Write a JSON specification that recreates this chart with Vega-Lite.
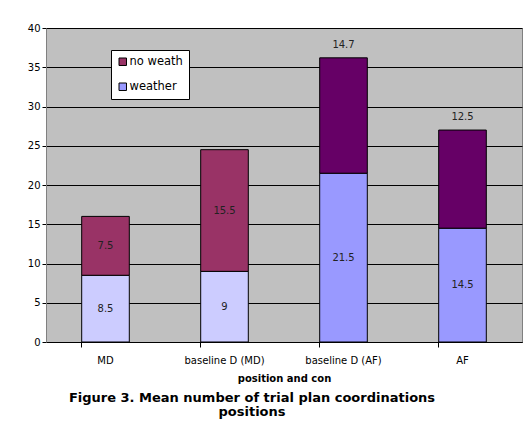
{
  "$schema": "https://vega.github.io/schema/vega-lite/v6.json",
  "autosize": "none",
  "padding": {"left": 46, "top": 28, "right": 1, "bottom": 81},
  "width": 476,
  "height": 314,
  "background": "white",
  "title": {
    "text": ["Figure 3. Mean number of trial plan coordinations", "positions"],
    "orient": "bottom",
    "anchor": "middle",
    "dx": -32,
    "offset": 9,
    "font": "DejaVu Sans",
    "fontSize": 13,
    "fontWeight": "bold",
    "color": "#000000",
    "lineHeight": 14
  },
  "data": {
    "values": [
      {"position": "MD", "series": "weather", "shade": "w1", "order": 1, "value": 8.5, "label": "8.5", "place": "inside"},
      {"position": "MD", "series": "no weather", "shade": "nw1", "order": 2, "value": 7.5, "label": "7.5", "place": "inside"},
      {"position": "baseline D (MD)", "series": "weather", "shade": "w1", "order": 1, "value": 9, "label": "9", "place": "inside"},
      {"position": "baseline D (MD)", "series": "no weather", "shade": "nw1", "order": 2, "value": 15.5, "label": "15.5", "place": "inside"},
      {"position": "baseline D (AF)", "series": "weather", "shade": "w2", "order": 1, "value": 21.5, "label": "21.5", "place": "inside"},
      {"position": "baseline D (AF)", "series": "no weather", "shade": "nw2", "order": 2, "value": 14.7, "label": "14.7", "place": "above"},
      {"position": "AF", "series": "weather", "shade": "w2", "order": 1, "value": 14.5, "label": "14.5", "place": "inside"},
      {"position": "AF", "series": "no weather", "shade": "nw2", "order": 2, "value": 12.5, "label": "12.5", "place": "above"}
    ]
  },
  "transform": [
    {"stack": "value", "groupby": ["position"], "sort": [{"field": "order"}], "as": ["v0", "v1"]},
    {"calculate": "(datum.v0 + datum.v1) / 2", "as": "mid"}
  ],
  "encoding": {
    "x": {
      "field": "position",
      "type": "nominal",
      "sort": ["MD", "baseline D (MD)", "baseline D (AF)", "AF"],
      "scale": {"paddingInner": 0.6, "paddingOuter": 0.3},
      "title": "position and con",
      "axis": {"labelAngle": 0, "bandPosition": 0}
    }
  },
  "layer": [
    {
      "mark": {"type": "bar", "stroke": "#000000", "strokeWidth": 1},
      "encoding": {
        "y": {
          "field": "v0",
          "type": "quantitative",
          "scale": {"domain": [0, 40], "nice": false},
          "title": null,
          "axis": {"values": [0, 5, 10, 15, 20, 25, 30, 35, 40], "tickCount": 20, "format": "d"}
        },
        "y2": {"field": "v1"},
        "color": {
          "field": "shade",
          "type": "nominal",
          "scale": {
            "domain": ["nw1", "nw2", "w1", "w2"],
            "range": ["#993366", "#660066", "#ccccff", "#9999ff"]
          },
          "legend": {
            "values": ["nw1", "w2"],
            "labelExpr": "datum.value == 'nw1' ? 'no weath' : 'weather'",
            "title": null,
            "orient": "none",
            "legendX": 65,
            "legendY": 22,
            "fillColor": "white",
            "strokeColor": "#000000",
            "padding": 6,
            "symbolType": "square",
            "symbolSize": 56,
            "symbolStrokeColor": "#000000",
            "symbolStrokeWidth": 1,
            "symbolOpacity": 1,
            "labelFont": "DejaVu Sans",
            "labelFontSize": 11.5,
            "labelColor": "#000000",
            "labelOffset": 1,
            "rowPadding": 12
          }
        }
      }
    },
    {
      "transform": [{"filter": "datum.place == 'inside'"}],
      "mark": {"type": "text", "font": "DejaVu Sans", "fontSize": 10, "color": "#222222", "baseline": "middle"},
      "encoding": {
        "y": {"field": "mid", "type": "quantitative", "title": null, "axis": {"values": [0, 5, 10, 15, 20, 25, 30, 35, 40], "tickCount": 20, "format": "d"}},
        "text": {"field": "label"}
      }
    },
    {
      "transform": [{"filter": "datum.place == 'above'"}],
      "mark": {"type": "text", "font": "DejaVu Sans", "fontSize": 10, "color": "#222222", "baseline": "middle", "dy": -13},
      "encoding": {
        "y": {"field": "v1", "type": "quantitative", "title": null, "axis": {"values": [0, 5, 10, 15, 20, 25, 30, 35, 40], "tickCount": 20, "format": "d"}},
        "text": {"field": "label"}
      }
    }
  ],
  "config": {
    "view": {"fill": "#c0c0c0", "stroke": "#808080"},
    "axisY": {
      "tickCount": 20,
      "grid": true,
      "gridColor": "#000000",
      "gridOpacity": 1,
      "gridWidth": 1,
      "labelFont": "DejaVu Sans",
      "labelFontSize": 10,
      "labelColor": "#000000",
      "labelPadding": 2,
      "labelOverlap": false,
      "tickColor": "#000000",
      "tickSize": 4,
      "domainColor": "#808080"
    },
    "axisX": {
      "labelFont": "DejaVu Sans",
      "labelFontSize": 10,
      "labelColor": "#000000",
      "labelPadding": 8,
      "tickColor": "#000000",
      "tickSize": 5,
      "domainColor": "#000000",
      "titleFont": "DejaVu Sans",
      "titleFontSize": 10,
      "titleFontWeight": "bold",
      "titleColor": "#000000",
      "titlePadding": 8
    }
  }
}
